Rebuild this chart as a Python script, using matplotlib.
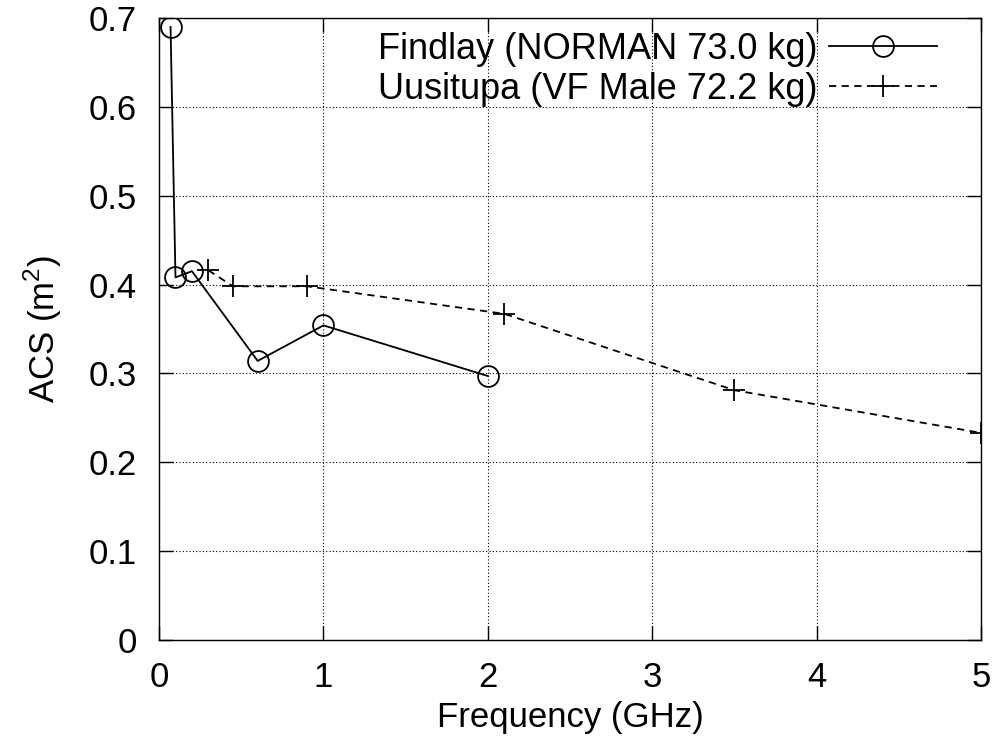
import matplotlib
matplotlib.use("Agg")
import matplotlib.pyplot as plt
import numpy as np

plt.rcParams['font.family'] = ['Liberation Sans', 'DejaVu Sans']
plt.rcParams['mathtext.fontset'] = 'custom'
plt.rcParams['mathtext.rm'] = 'Liberation Sans'

# Findlay (NORMAN 73.0 kg)
findlay_freq = [0.07, 0.1, 0.2, 0.6, 1.0, 2.0]
findlay_acs = [0.690, 0.408, 0.415, 0.314, 0.354, 0.297]

# Uusitupa (VF Male 72.2 kg)
uusitupa_freq = [0.3, 0.45, 0.9, 2.1, 3.5, 5.0]
uusitupa_acs = [0.416, 0.398, 0.398, 0.367, 0.281, 0.233]

x_ticks = [0, 1, 2, 3, 4, 5]
y_ticks = [0, 0.1, 0.2, 0.3, 0.4, 0.5, 0.6, 0.7]
y_labels = ["0", "0.1", "0.2", "0.3", "0.4", "0.5", "0.6", "0.7"]

fig = plt.figure(figsize=(9.94, 7.51), dpi=100)
ax = fig.add_axes([0.16, 0.148, 0.827, 0.828])

ax.plot(findlay_freq, findlay_acs, color="black", linestyle="-", linewidth=1.3,
        marker="o", markersize=15, markerfacecolor="none", markeredgewidth=1.3,
        label="Findlay (NORMAN 73.0 kg)")
ax.plot(uusitupa_freq, uusitupa_acs, color="black", linestyle=(0, (4, 3)), linewidth=1.3,
        marker="+", markersize=16, markeredgewidth=1.3,
        label="Uusitupa (VF Male 72.2 kg)")

ax.set_xlim(0, 5)
ax.set_ylim(0, 0.7)
ax.set_xticks(x_ticks)
ax.set_yticks(y_ticks)
ax.set_yticklabels(y_labels)
ax.tick_params(direction="in", length=10, width=1, top=True, right=True,
               labelsize=25)
ax.tick_params(axis="x", pad=15)
ax.tick_params(axis="y", pad=16)
ax.grid(True, linestyle=(0, (1, 2)), color="black", linewidth=0.8)
for s in ax.spines.values():
    s.set_linewidth(1.0)

ax.set_xlabel("Frequency (GHz)", fontsize=25, labelpad=5)
ax.set_ylabel("ACS (m$^2$)", fontsize=25, labelpad=18)

leg = ax.legend(loc="upper right", bbox_to_anchor=(0.9465, 0.978),
                frameon=False, markerfirst=False, fontsize=26,
                handlelength=3.0, labelspacing=0.15, borderaxespad=0.0,
                borderpad=0.0, handletextpad=0.3)

fig.savefig("out.png", dpi=100)
